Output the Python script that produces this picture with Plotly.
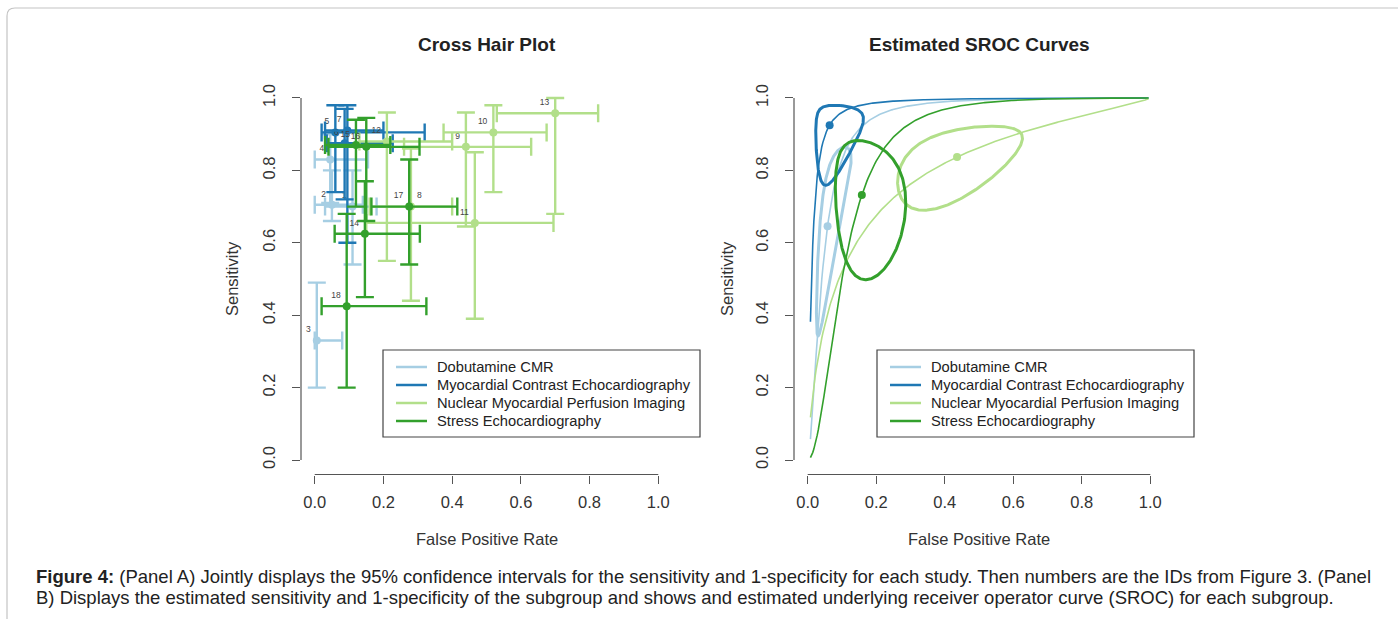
import numpy as np
import plotly.graph_objects as go

# ---------------- data ----------------
groups = ["Dobutamine CMR", "Myocardial Contrast Echocardiography",
          "Nuclear Myocardial Perfusion Imaging", "Stress Echocardiography"]
group_colors = ["#A6CEE3", "#1F78B4", "#B2DF8A", "#33A02C"]

study_id = [1, 2, 3, 4, 5, 6, 7, 8, 9, 10, 11, 12, 13, 14, 15, 16, 17, 18]
study_group = [0, 0, 0, 0, 1, 1, 1, 2, 2, 2, 2, 2, 2, 3, 3, 3, 3, 3]
fpr = [0.11, 0.05, 0.006, 0.045, 0.06, 0.087, 0.095, 0.28, 0.44, 0.52, 0.466, 0.21, 0.70,
       0.146, 0.12, 0.15, 0.275, 0.093]
fpr_lo = [0.03, 0.0, 0.0, 0.0, 0.02, 0.035, 0.03, 0.16, 0.26, 0.375, 0.15, 0.13, 0.53,
          0.058, 0.03, 0.04, 0.165, 0.02]
fpr_hi = [0.18, 0.14, 0.08, 0.155, 0.32, 0.227, 0.20, 0.40, 0.63, 0.675, 0.695, 0.40, 0.825,
          0.306, 0.22, 0.305, 0.415, 0.325]
sens = [0.70, 0.705, 0.33, 0.83, 0.905, 0.875, 0.91, 0.70, 0.865, 0.905, 0.655, 0.88, 0.958,
        0.625, 0.87, 0.865, 0.70, 0.425]
sens_lo = [0.54, 0.66, 0.20, 0.71, 0.74, 0.72, 0.60, 0.44, 0.645, 0.74, 0.39, 0.55, 0.68,
           0.45, 0.70, 0.66, 0.54, 0.20]
sens_hi = [0.80, 0.80, 0.49, 0.90, 0.98, 0.97, 0.98, 0.86, 0.96, 0.98, 0.85, 0.96, 1.0,
           0.77, 0.94, 0.945, 0.83, 0.68]
label_pos = ["top left"] * 18
label_pos[7] = "top right"   # study 8 label sits beside study 17's

# subgroup summary estimates (panel B)
sum_fpr = [0.058, 0.064, 0.436, 0.158]
sum_sens = [0.646, 0.925, 0.837, 0.732]
sroc_slope = [1.67, 1.40, 0.80, 1.92]           # slope of SROC in logit space
ell_major = [1.45, 1.40, 1.0, 1.02]              # confidence ellipse (logit space)
ell_minor = [0.45, 1.0, 0.55, 0.75]
ell_angle = [58, 72, 49, 100]

ticks = [0, 0.2, 0.4, 0.6, 0.8, 1.0]
tick_labels = ["0.0", "0.2", "0.4", "0.6", "0.8", "1.0"]

W, H = 1398, 619
FONT = "Liberation Sans"


def px(x):
    return x / W


def py(y):
    return 1 - y / H


def logit(p):
    p = np.asarray(p, dtype=float)
    return np.log(p / (1 - p))


def expit(z):
    return 1 / (1 + np.exp(-z))


fig = go.Figure()

# ---------------- Panel A: cross hairs ----------------
for i in range(len(study_id)):
    c = group_colors[study_group[i]]
    fig.add_trace(go.Scatter(
        x=[fpr[i]], y=[sens[i]], xaxis="x", yaxis="y",
        mode="markers+text", text=[str(study_id[i])], textposition=label_pos[i],
        textfont=dict(family=FONT, size=8.5, color="#444"),
        marker=dict(size=8, color=c),
        error_x=dict(type="data", symmetric=False, array=[fpr_hi[i] - fpr[i]],
                     arrayminus=[fpr[i] - fpr_lo[i]], color=c, thickness=2.4, width=9),
        error_y=dict(type="data", symmetric=False, array=[sens_hi[i] - sens[i]],
                     arrayminus=[sens[i] - sens_lo[i]], color=c, thickness=2.4, width=9),
        showlegend=False, cliponaxis=False, hoverinfo="skip"))

# ---------------- Panel B: SROC curves ----------------
grid = np.linspace(0.008, 0.995, 300)
tt = np.linspace(0, 2 * np.pi, 300)
for g in range(4):
    c = group_colors[g]
    cx, cy = logit(sum_fpr[g]), logit(sum_sens[g])
    ys = expit(cy + sroc_slope[g] * (logit(grid) - cx))
    fig.add_trace(go.Scatter(x=grid, y=ys, xaxis="x2", yaxis="y2", mode="lines",
                             line=dict(color=c, width=1.6), showlegend=False,
                             hoverinfo="skip"))
for g in range(4):
    c = group_colors[g]
    cx, cy = logit(sum_fpr[g]), logit(sum_sens[g])
    th = np.deg2rad(ell_angle[g])
    a, b = ell_major[g], ell_minor[g]
    ex = cx + a * np.cos(th) * np.cos(tt) - b * np.sin(th) * np.sin(tt)
    ey = cy + a * np.sin(th) * np.cos(tt) + b * np.cos(th) * np.sin(tt)
    fig.add_trace(go.Scatter(x=expit(ex), y=expit(ey), xaxis="x2", yaxis="y2",
                             mode="lines", line=dict(color=c, width=3),
                             showlegend=False, hoverinfo="skip"))
    fig.add_trace(go.Scatter(x=[sum_fpr[g]], y=[sum_sens[g]], xaxis="x2", yaxis="y2",
                             mode="markers", marker=dict(size=8, color=c),
                             showlegend=False, hoverinfo="skip"))

# ---------------- axes ----------------
ydom = [1 - 474.5 / H, 1 - 83.5 / H]
axis_common = dict(range=[-0.04, 1.04], showgrid=False, zeroline=False, showline=False,
                   ticks="outside", ticklen=8, tickwidth=1.2, tickcolor="#555",
                   tickvals=ticks, ticktext=tick_labels,
                   tickfont=dict(family=FONT, size=16.5, color="#333"))

fig.update_layout(
    width=W, height=H, margin=dict(l=0, r=0, t=0, b=0),
    paper_bgcolor="white", plot_bgcolor="white",
    xaxis=dict(domain=[301 / W, 672 / W], anchor="y", ticklabelstandoff=5, **axis_common),
    yaxis=dict(domain=ydom, anchor="x", tickangle=-90, ticklabelstandoff=10, **axis_common),
    xaxis2=dict(domain=[794 / W, 1164 / W], anchor="y2", ticklabelstandoff=5, **axis_common),
    yaxis2=dict(domain=ydom, anchor="x2", tickangle=-90, ticklabelstandoff=10, **axis_common),
)

shapes = []
anns = []
for xa, ya in [("x", "y"), ("x2", "y2")]:
    shapes.append(dict(type="line", xref=xa + " domain", yref=ya, x0=0, x1=0, y0=0, y1=1,
                       line=dict(color="#555", width=1.2)))
    shapes.append(dict(type="line", xref=xa, yref=ya + " domain", x0=0, x1=1, y0=0, y1=0,
                       line=dict(color="#555", width=1.2)))

# titles
for title, cxp in [("Cross Hair Plot", 486.5), ("Estimated SROC Curves", 979)]:
    anns.append(dict(text="<b>" + title + "</b>", x=px(cxp), y=py(45), xref="paper",
                     yref="paper", showarrow=False, xanchor="center", yanchor="middle",
                     font=dict(family=FONT, size=19, color="#222")))
for cxp, ylab_x in [(486.5, 232), (979, 727)]:
    anns.append(dict(text="False Positive Rate", x=px(cxp), y=py(539), xref="paper",
                     yref="paper", showarrow=False, xanchor="center", yanchor="middle",
                     font=dict(family=FONT, size=16.5, color="#333")))
    anns.append(dict(text="Sensitivity", x=px(ylab_x), y=py(279), xref="paper",
                     yref="paper", showarrow=False, xanchor="center", yanchor="middle",
                     textangle=-90, font=dict(family=FONT, size=16.5, color="#333")))

# legends
rows = [367, 385, 403, 421]
for off in [0, 494]:
    shapes.append(dict(type="rect", xref="paper", yref="paper", x0=px(383 + off),
                       x1=px(700 + off), y0=py(350), y1=py(437),
                       line=dict(color="#444", width=1.2), fillcolor="white", layer="above"))
    for g in range(4):
        shapes.append(dict(type="line", xref="paper", yref="paper", x0=px(396 + off),
                           x1=px(427 + off), y0=py(rows[g]), y1=py(rows[g]),
                           line=dict(color=group_colors[g], width=2.5), layer="above"))
        anns.append(dict(text=groups[g], x=px(435 + off), y=py(rows[g]), xref="paper",
                         yref="paper", showarrow=False, xanchor="left", yanchor="middle",
                         font=dict(family=FONT, size=14.7, color="#222")))

# page frame
frame = (f"M {px(7)} {py(619)} L {px(7)} {py(16)} Q {px(7)} {py(8)} {px(15)} {py(8)} "
         f"L {px(1398)} {py(8)}")
shapes.append(dict(type="path", xref="paper", yref="paper", path=frame,
                   line=dict(color="#c4c4c4", width=1.2)))

# caption
cap1 = ("<b>Figure 4:</b> (Panel A) Jointly displays the 95% confidence intervals for the "
        "sensitivity and 1-specificity for each study. Then numbers are the IDs from Figure 3. (Panel")
cap2 = ("B) Displays the estimated sensitivity and 1-specificity of the subgroup and shows and "
        "estimated underlying receiver operator curve (SROC) for each subgroup.")
for txt, yy in [(cap1, 576), (cap2, 597)]:
    anns.append(dict(text=txt, x=px(34), y=py(yy), xref="paper", yref="paper",
                     showarrow=False, xanchor="left", yanchor="middle",
                     font=dict(family=FONT, size=18.5, color="#222")))

fig.update_layout(shapes=shapes, annotations=anns)
fig.write_html("out.html")
